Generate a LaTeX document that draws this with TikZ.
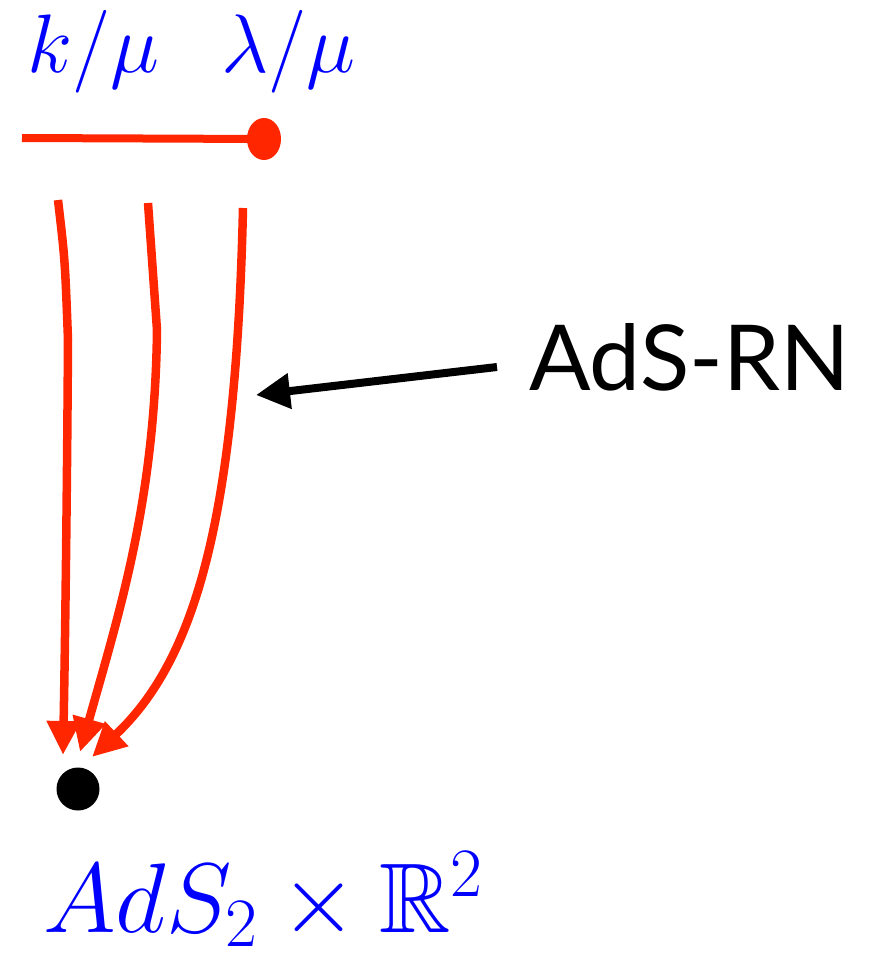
\RequirePackage{fix-cm}
\documentclass[tikz,border=0pt]{standalone}
\usepackage{amssymb}
\usepackage{fontspec}
\newfontfamily\labelfont{Lato}
\usetikzlibrary{arrows.meta,shapes.geometric}
\definecolor{kred}{RGB}{255,38,0}
\definecolor{kblue}{RGB}{0,0,255}
\tikzset{
  flow/.style={draw=kred, line width=8.5pt, -{Triangle[length=34pt,width=32pt]}},
  mathlab/.style={inner sep=0pt, text=kblue, anchor=base west},
}
\begin{document}
\begin{tikzpicture}[x=1pt,y=-1pt]
\useasboundingbox (0,0) rectangle (868,958);
% top labels
\node[mathlab, font=\fontsize{83}{90}\selectfont] (klab) at (27,72) {$k/\mu$};
\node[mathlab, font=\fontsize{83}{90}\selectfont] (llab) at (221,72) {$\lambda/\mu$};
% red segment with dot
\coordinate (segL) at (22,138);
\node[fill=kred, ellipse, minimum width=34pt, minimum height=42pt, inner sep=0pt, draw=none] (rdot) at (264,139) {};
\draw[kred, line width=8pt] (segL) -- (rdot.center);
% curve start/end coordinates
\coordinate (s1) at (58,200);
\coordinate (m1) at (68,340);
\coordinate (t1) at (63,755);
\coordinate (s2) at (148,203);
\coordinate (m2) at (157,330);
\coordinate (t2) at (80,752);
\coordinate (s3) at (243,208);
\coordinate (t3) at (92,757);
\draw[flow] (s1) .. controls (65,260) .. (m1) .. controls (67,500) and (65,650) .. (t1);
\draw[flow] (s2) -- (m2) .. controls (155,500) and (120,610) .. (t2);
\draw[flow] (s3) .. controls (236,520) and (195,660) .. (t3);
% black dot
\node[circle, fill=black, minimum size=43pt, inner sep=0pt] (bdot) at (78,789) {};
% bottom label
\node[mathlab, font=\fontsize{99}{104}\selectfont] (blab) at (43,932) {$AdS_2\times\mathbb{R}^2$};
% AdS-RN label and arrow
\node[inner sep=0pt, anchor=base west, font=\labelfont\fontsize{91}{96}\selectfont] (rn) at (529,390) {AdS-RN};
\coordinate (atail) at (497,367);
\coordinate (atip) at (256,395);
\draw[line width=8pt, -{Triangle[length=34pt,width=34pt]}] (atail) -- (atip);
\end{tikzpicture}
\end{document}
